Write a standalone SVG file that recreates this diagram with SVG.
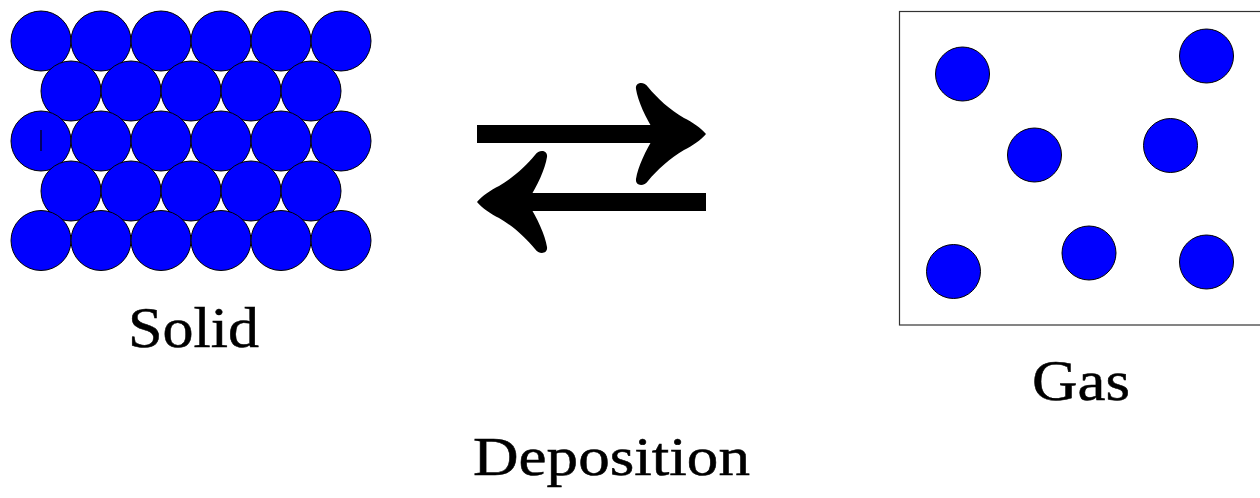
<svg xmlns="http://www.w3.org/2000/svg" xmlns:xlink="http://www.w3.org/1999/xlink" width="1260" height="498" viewBox="0 0 1260 498">
<style>
.p{fill:#0000ff;stroke:#000;stroke-width:1}
.lbl{font-family:"Liberation Serif","Times New Roman",serif;fill:#000;stroke:#000;stroke-width:0.5}
.box{fill:none;stroke:#333;stroke-width:1.2}
</style>
<defs>
<g id="arr">
<rect x="477" y="125" width="181" height="18" fill="#000"/>
<path d="M706,134 C701,128 692,122 684,118 C670,110 657,98 648,87 C644,81 635,82 636,89 C638,101 645,117 656,134 C645,151 638,167 636,179 C635,186 644,187 648,181 C657,170 670,158 684,150 C692,146 701,140 706,134 Z" fill="#000"/>
</g>
</defs>
<rect width="1260" height="498" fill="#fff"/>
<g id="solid">
<circle class="p" cx="41" cy="41" r="30"/><circle class="p" cx="101" cy="41" r="30"/><circle class="p" cx="161" cy="41" r="30"/><circle class="p" cx="221" cy="41" r="30"/><circle class="p" cx="281" cy="41" r="30"/><circle class="p" cx="341" cy="41" r="30"/>
<circle class="p" cx="71" cy="91" r="30"/><circle class="p" cx="131" cy="91" r="30"/><circle class="p" cx="191" cy="91" r="30"/><circle class="p" cx="251" cy="91" r="30"/><circle class="p" cx="311" cy="91" r="30"/>
<circle class="p" cx="41" cy="141" r="30"/><circle class="p" cx="101" cy="141" r="30"/><circle class="p" cx="161" cy="141" r="30"/><circle class="p" cx="221" cy="141" r="30"/><circle class="p" cx="281" cy="141" r="30"/><circle class="p" cx="341" cy="141" r="30"/>
<circle class="p" cx="71" cy="191" r="30"/><circle class="p" cx="131" cy="191" r="30"/><circle class="p" cx="191" cy="191" r="30"/><circle class="p" cx="251" cy="191" r="30"/><circle class="p" cx="311" cy="191" r="30"/>
<circle class="p" cx="41" cy="240.5" r="30"/><circle class="p" cx="101" cy="240.5" r="30"/><circle class="p" cx="161" cy="240.5" r="30"/><circle class="p" cx="221" cy="240.5" r="30"/><circle class="p" cx="281" cy="240.5" r="30"/><circle class="p" cx="341" cy="240.5" r="30"/>
<line x1="41" y1="130" x2="41" y2="151" stroke="#000" stroke-width="1.2"/>
<text class="lbl" x="128" y="347" font-size="58" textLength="131" lengthAdjust="spacingAndGlyphs">Solid</text>
</g>
<g id="gas">
<rect class="box" x="899.5" y="11.5" width="400" height="313.5"/>
<circle class="p" cx="962.5" cy="74" r="27"/>
<circle class="p" cx="1206.5" cy="56" r="27"/>
<circle class="p" cx="1034.5" cy="155" r="27"/>
<circle class="p" cx="1170.5" cy="145.5" r="27"/>
<circle class="p" cx="953.5" cy="271.5" r="27"/>
<circle class="p" cx="1089" cy="253" r="27"/>
<circle class="p" cx="1206.5" cy="262" r="27"/>
<text class="lbl" x="1032" y="400" font-size="56" textLength="98" lengthAdjust="spacingAndGlyphs">Gas</text>
</g>
<g id="connectors">
<use xlink:href="#arr"/>
<use xlink:href="#arr" transform="rotate(180 591.5 168)"/>
</g>
<g id="title">
<text class="lbl" x="473" y="475" font-size="54" textLength="277" lengthAdjust="spacingAndGlyphs">Deposition</text>
</g>
</svg>
